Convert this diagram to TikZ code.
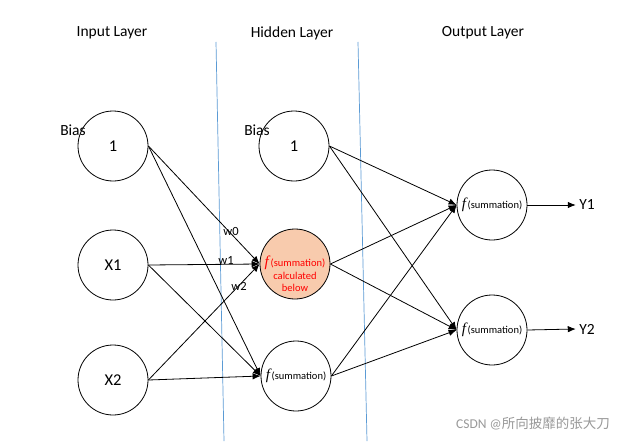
\documentclass[tikz,border=0pt]{standalone}
\usepackage{fontspec}
\setmainfont{Carlito}
\newfontfamily\fserif{Liberation Serif}
\newfontfamily\cjk{Noto Sans CJK SC}
\usetikzlibrary{arrows.meta}
\definecolor{sepblue}{RGB}{91,155,213}
\definecolor{hot}{RGB}{248,203,173}
\newcommand{\fsum}{{\fserif\itshape\fontsize{15}{16}\selectfont f}\,{\fontsize{10.5}{12}\selectfont(summation)}}
\begin{document}
\begin{tikzpicture}[x=1pt,y=-1pt,
  neuron/.style={circle,draw,line width=0.8pt,minimum size=70pt,inner sep=0pt,font=\fontsize{16.5}{18}\selectfont},
  title/.style={font=\fontsize{15.5}{18}\selectfont},
  wlab/.style={font=\fontsize{12.5}{14}\selectfont,inner sep=0pt},
  arr/.style={line width=0.8pt,-{Latex[length=8pt,width=6.5pt]}},
  sep/.style={sepblue,line width=0.7pt}]
\useasboundingbox (0,0) rectangle (628,441);
\fill[white] (0,0) rectangle (628,441);
% separators
\coordinate (s1a) at (216,42); \coordinate (s1b) at (224,441);
\coordinate (s2a) at (358,42); \coordinate (s2b) at (367,441);
\draw[sep] (s1a) -- (s1b);
\draw[sep] (s2a) -- (s2b);
% titles
\node[title] (t1) at (112,33) {Input Layer};
\node[title] (t2) at (292,33) {Hidden Layer};
\node[title] (t3) at (483,33) {Output Layer};
% input nodes
\node[neuron] (i0) at (113,146) {1};
\node[neuron] (i1) at (113,265) {X1};
\node[neuron] (i2) at (113,380) {X2};
% hidden nodes
\node[neuron] (h0) at (294,146) {1};
\node[neuron,fill=hot] (h1) at (295,264) {};
\node[neuron] (h2) at (296,376) {};
% output nodes
\node[neuron] (o1) at (492,205) {};
\node[neuron] (o2) at (492,330) {};
% bias labels
\node[title,inner sep=0pt] (b1) at (73,130) {Bias};
\node[title,inner sep=0pt] (b2) at (257,130) {Bias};
% node texts
\node[inner sep=0pt,text=red,align=center,font=\fontsize{10.5}{12.5}\selectfont] (h1t) at ([yshift=-10pt]h1) {\fsum\\calculated\\below};
\node[inner sep=0pt] (h2t) at (h2) {\fsum};
\node[inner sep=0pt] (o1t) at (o1) {\fsum};
\node[inner sep=0pt] (o2t) at (o2) {\fsum};
% input -> hidden
\draw[arr] (i0.east) -- (h1.west);
\draw[arr] (i0.east) -- (h2.west);
\draw[arr] (i1.east) -- (h1.west);
\draw[arr] (i1.east) -- (h2.west);
\draw[arr] (i2.east) -- (h1.west);
\draw[arr] (i2.east) -- (h2.west);
% weights
\node[wlab] (w0) at (231,231) {w0};
\node[wlab] (w1) at (226,260) {w1};
\node[wlab] (w2) at (239,286) {w2};
% hidden -> output
\draw[arr] (h0.east) -- (o1.west);
\draw[arr] (h0.east) -- (o2.west);
\draw[arr] (h1.east) -- (o1.west);
\draw[arr] (h1.east) -- (o2.west);
\draw[arr] (h2.east) -- (o1.west);
\draw[arr] (h2.east) -- (o2.west);
% outputs
\node[title] (y1) at (587,205) {Y1};
\node[title] (y2) at (587,329) {Y2};
\draw[arr] (o1.east) -- (y1.west);
\draw[arr] (o2.east) -- (y2.west);
% watermark
\node[text=gray!80,font=\fontsize{13.5}{15}\selectfont] (wm) at (533,424) {CSDN @{\cjk 所向披靡的张大刀}};
\end{tikzpicture}
\end{document}
